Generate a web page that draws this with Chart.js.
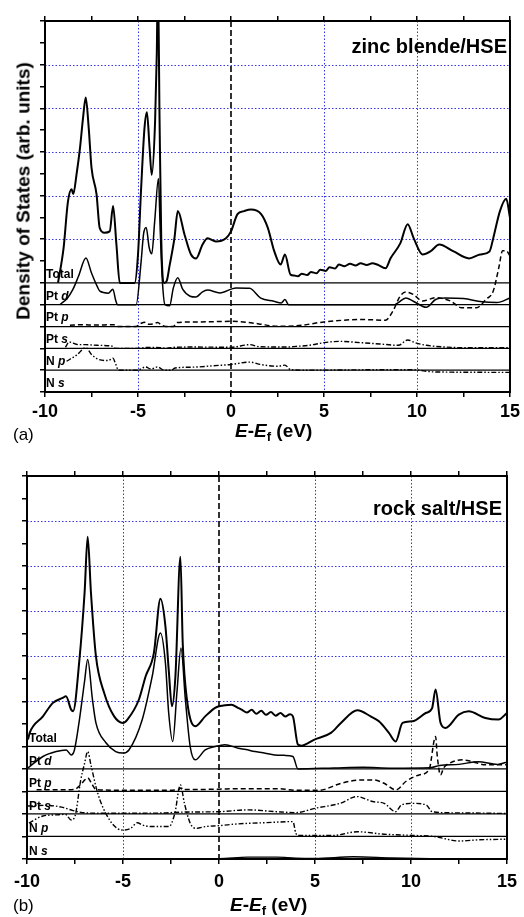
<!DOCTYPE html>
<html><head><meta charset="utf-8">
<script src="https://cdn.jsdelivr.net/npm/chart.js@4.4.1/dist/chart.umd.min.js"></script>
<style>
html,body{margin:0;padding:0;background:#fff;}
#wrap{position:relative;width:524px;height:917px;overflow:hidden;font-family:'Liberation Sans',Arial,Helvetica,sans-serif;color:#000;}
canvas{position:absolute;left:0;}
.t{position:absolute;white-space:nowrap;line-height:1;}
.lab{font-size:12px;font-weight:bold;}
.ttl{font-size:20px;font-weight:bold;}
.xt{font-size:19px;font-weight:bold;}
.xt sub{font-size:13px;font-style:normal;vertical-align:-4px;line-height:0;}
.pl{font-size:17px;}
</style></head><body>
<div id="wrap">
<canvas id="ca" width="524" height="458" style="top:0"></canvas>
<canvas id="cb" width="524" height="459" style="top:458px"></canvas>

<div class="t" style="left:23px;top:191px;font-size:19px;font-weight:bold;transform:translate(-50%,-50%) rotate(-90deg);">Density of States (arb. units)</div>

<div class="t ttl" style="right:17px;top:36px;">zinc blende/HSE</div>
<div class="t ttl" style="right:22px;top:498px;">rock salt/HSE</div>

<div class="t xt" style="left:235px;top:421px;"><i>E</i>-<i>E</i><sub>f</sub> (eV)</div>
<div class="t xt" style="left:230px;top:895px;"><i>E</i>-<i>E</i><sub>f</sub> (eV)</div>

<div class="t pl" style="left:13px;top:426px;">(a)</div>
<div class="t pl" style="left:13px;top:897px;">(b)</div>
<div id="labs"></div>
</div>
<script>
// ---------------- data (energy in eV, DOS in arb. units relative to each curve's own baseline)
const seriesNames = ['Total', 'Pt d', 'Pt p', 'Pt s', 'N p', 'N s'];
const energyTicks = [-10, -5, 0, 5, 10, 15];
const gridLevels = [7, 9, 11, 13, 15];
const gridEnergies = [-5, 5, 10];
const fermiEnergy = 0;

// zinc blende / HSE
const zbTotal = [[-9.3,0],[-9.0,1.6],[-8.77,3.7],[-8.57,4.29],[-8.48,4.07],[-8.3,5.0],[-8.13,6.09],[-7.95,7.6],[-7.81,8.5],[-7.65,7.1],[-7.5,5.28],[-7.23,4.07],[-7.06,2.52],[-6.8,2.3],[-6.52,2.36],[-6.34,3.52],[-6.16,1.76],[-5.98,0],[-5.18,0],[-5.0,1.3],[-4.83,4.36],[-4.65,7.1],[-4.52,7.82],[-4.38,6.22],[-4.26,4.95],[-4.08,7.43],[-3.99,10.5],[-3.93,14],[-3.84,7.43],[-3.75,2.05],[-3.58,0],[-3.45,0.1],[-3.3,0.8],[-3.04,2.05],[-2.86,3.29],[-2.5,2.22],[-2.15,1.3],[-1.88,1.12],[-1.53,1.76],[-1.26,2.05],[-0.81,1.9],[-0.27,2.05],[0,2.36],[0.35,3.15],[0.7,3.29],[1.07,3.36],[1.62,3.15],[1.98,2.52],[2.33,1.44],[2.67,0.84],[2.9,1.3],[3.2,0.38],[3.4,0.34],[3.6,0.3],[3.8,0.42],[4.1,0.36],[4.3,0.5],[4.6,0.44],[4.8,0.6],[5.1,0.55],[5.3,0.72],[5.6,0.66],[5.8,0.84],[6.1,0.76],[6.4,0.88],[6.7,0.8],[6.97,0.9],[7.3,0.82],[7.6,0.9],[7.86,0.84],[8.31,0.67],[8.58,1.13],[9.1,1.81],[9.5,2.69],[9.82,2.05],[10.3,1.3],[10.72,1.44],[11.2,1.76],[11.97,1.44],[12.8,1.12],[13.39,1.3],[13.9,1.44],[14.1,2.05],[14.46,3.29],[14.8,3.85],[15,2.98]];
const zbPtd = [[-9.2,0],[-8.8,0.3],[-8.5,0.7],[-8.2,1.3],[-7.8,2.14],[-7.5,1.45],[-7.2,0.85],[-7.05,0.62],[-6.6,0.53],[-6.35,0.71],[-6.2,0.2],[-6.1,0],[-5.1,0],[-4.83,2.0],[-4.7,3.25],[-4.56,3.54],[-4.4,2.62],[-4.26,2.33],[-4.1,3.85],[-3.9,5.78],[-3.81,3.54],[-3.7,1.24],[-3.55,0],[-3.3,-0.05],[-3.1,0.77],[-2.86,1.24],[-2.6,0.71],[-2.2,0.39],[-1.88,0.35],[-1.55,0.58],[-1.26,0.67],[-0.6,0.54],[0.27,0.77],[1.0,0.75],[1.6,0.3],[2.3,0.16],[2.7,0.08],[2.9,0.24],[3.1,0],[8.8,0],[9.0,0.1],[9.4,0.31],[9.8,0.16],[10.5,-0.12],[11.0,0.24],[11.5,0.31],[12.5,0.28],[13.5,0.13],[14.3,0.1],[15,0.31]];
const zbPtp = [[-8.66,0.06],[-8.0,0.08],[-7.3,0.07],[-6.3,0.08],[-6.1,0],[-5.1,0],[-4.9,0.12],[-4.6,0.2],[-4.4,0.1],[-4.2,0.12],[-3.95,0.18],[-3.7,0.05],[-3.5,0],[-3.1,0],[-2.9,0.18],[-2.0,0.21],[-1,0.22],[0,0.24],[0.8,0.2],[1.5,0.12],[2.5,0.01],[3.5,0.03],[5.0,0.21],[7.0,0.32],[8.3,0.29],[8.7,0.7],[9.1,1.4],[9.4,1.58],[9.8,1.47],[10.3,1.17],[11.0,1.32],[11.8,1.17],[12.4,0.86],[13.2,0.86],[13.7,1.24],[14.1,1.63],[14.4,2.7],[14.6,3.47],[14.8,3.47],[15,3.24]];
const zbPts = [[-8.9,0.05],[-8.7,0.29],[-8.2,0.17],[-7.8,0.17],[-7.2,0.14],[-6.4,0.1],[-6.2,0],[-5.0,0],[-4.5,0.04],[-3.8,0.03],[-3.5,0],[-3.0,0.05],[-2.0,0.06],[0,0.05],[1.0,0.17],[1.5,0.08],[3.0,0.06],[3.5,0.09],[4.2,0.14],[5.0,0.26],[5.8,0.32],[7.0,0.26],[8.0,0.2],[9.0,0.14],[9.5,0.38],[9.9,0.26],[10.5,0.14],[11.5,0.06],[12.5,0.03],[15,0.03]];
const zbNp = [[-8.84,0.41],[-8.3,0.69],[-7.8,1.03],[-7.5,0.72],[-7.1,0.49],[-6.6,0.44],[-6.35,0.55],[-6.2,0.28],[-6.05,0],[-5.0,0],[-4.8,0.08],[-4.6,0.15],[-4.3,0.05],[-3.95,0.15],[-3.6,0],[-3.2,0],[-3.0,0.1],[-2.0,0.14],[-1.0,0.2],[0,0.26],[1.0,0.37],[1.6,0.26],[2.5,0.18],[2.9,0.23],[3.2,0.03],[4.0,0],[8.3,0.02],[9.8,0.02],[10.9,-0.08],[15,-0.1]];
const zbNs = [[-9.3,0],[-6,0.01],[-5,0],[0,0.02],[5,0.01],[10,0.01],[15,0]];

// rock salt / HSE
const rsTotal = [[-9.95,0.3],[-9.86,0.6],[-9.17,1.33],[-8.65,1.93],[-8.14,2.15],[-7.97,2.22],[-7.7,1.63],[-7.6,1.56],[-7.27,3.85],[-7.0,6.83],[-6.84,9.3],[-6.67,6.83],[-6.41,4.0],[-5.98,2.37],[-5.46,1.33],[-5.0,1.04],[-4.77,1.19],[-4.17,2.08],[-3.82,3.11],[-3.39,4.15],[-3.05,6.55],[-2.79,5.33],[-2.62,3.41],[-2.45,1.78],[-2.27,3.11],[-2.01,8.42],[-1.89,4.6],[-1.67,2.08],[-1.24,0.89],[-0.72,1.33],[-0.2,1.71],[0,1.78],[0.65,1.85],[0.99,1.71],[1.2,1.62],[1.45,1.5],[1.7,1.62],[1.95,1.45],[2.2,1.58],[2.45,1.4],[2.7,1.52],[2.95,1.36],[3.2,1.48],[3.45,1.33],[3.7,1.42],[3.85,1.33],[4.11,0.08],[4.28,0.03],[4.97,0.3],[5.83,0.6],[6.35,1.04],[7.21,1.6],[7.9,1.33],[8.33,1.11],[8.85,0.6],[9.2,0.22],[9.56,1.04],[10.07,1.11],[10.77,1.48],[11.1,1.7],[11.28,2.52],[11.54,1.04],[11.8,0.82],[12.49,1.41],[13.0,1.56],[13.87,1.26],[14.56,1.19],[15,1.48]];
const rsPtd = [[-9.95,0.04],[-9.17,0.55],[-8.48,0.77],[-7.96,0.84],[-7.7,0.62],[-7.53,0.84],[-7.27,2.18],[-7.0,3.9],[-6.84,4.86],[-6.59,3.07],[-6.41,2.04],[-5.89,1.16],[-5.38,0.77],[-5.0,0.7],[-4.69,0.84],[-4.0,2.18],[-3.48,4.1],[-3.05,6.03],[-2.79,4.7],[-2.62,2.48],[-2.41,1.21],[-2.19,3.41],[-1.98,5.36],[-1.75,3.07],[-1.5,0.99],[-1.24,0.4],[-0.72,0.84],[-0.2,0.99],[0.31,1.07],[1.0,0.92],[1.4,0.86],[1.87,0.77],[2.3,0.72],[2.9,0.62],[3.4,0.6],[3.85,0.55],[4.11,0],[6.0,0.04],[7.5,0.07],[9.0,0.03],[11.0,0.05],[11.5,0.15],[12.5,0.2],[13.5,0.32],[14.5,0.2],[15,0.3]];
const rsPtp = [[-9.5,0.07],[-8,0.07],[-7.5,0.1],[-7.2,0.3],[-7.0,0.5],[-6.84,0.6],[-6.6,0.3],[-6.4,0.08],[-5,0.05],[-3,0.05],[-2.1,0.08],[-2.0,0.15],[-1.9,0.08],[0,0.1],[1,0.12],[3,0.12],[4.1,0.05],[5.2,0.05],[5.5,0.09],[6.35,0.36],[7.55,0.51],[8.05,0.51],[8.6,0.36],[9.22,0.07],[9.73,0.44],[10.42,0.73],[10.94,0.96],[11.28,2.44],[11.37,1.55],[11.54,0.73],[11.7,1.04],[12.05,1.27],[12.66,1.4],[13.2,1.32],[13.87,1.18],[15,1.18]];
const rsPts = [[-9.95,0.35],[-9.0,0.38],[-8.2,0.3],[-7.6,0.15],[-7.0,0.05],[-6.0,0.03],[-3.0,0.04],[-2.0,0.08],[0,0.1],[1.5,0.18],[3.0,0.1],[4.0,0.06],[5.0,0.25],[6.3,0.47],[7.2,0.77],[8.0,0.55],[8.6,0.47],[9.2,0.1],[9.5,0.4],[10.1,0.47],[10.8,0.4],[11.1,0.1],[12,0.05],[13.3,0.04],[15,0.02]];
const rsNp = [[-9.9,0.59],[-9.17,0.91],[-8.48,0.96],[-8.0,0.98],[-7.7,0.73],[-7.5,0.9],[-7.2,2.51],[-7.0,3.25],[-6.84,3.77],[-6.67,3.18],[-6.41,2.21],[-6.2,1.62],[-5.9,1.03],[-5.5,0.51],[-5.1,0.29],[-4.9,0.29],[-4.6,0.36],[-4.25,0.61],[-4.0,0.51],[-3.5,0.44],[-2.6,0.44],[-2.3,1.03],[-2.01,2.29],[-1.8,1.47],[-1.5,0.59],[-1.2,0.36],[-0.7,0.44],[0,0.48],[1.0,0.56],[2.38,0.61],[3.85,0.66],[4.0,0.15],[4.11,0.04],[6.0,0.05],[7.2,0.21],[8.6,0.1],[10.0,0.05],[11.2,0.0],[12.5,-0.2],[13.5,-0.15],[15,-0.12]];
const rsNs = [[-10,0],[0,0.02],[1.5,0.08],[3,0.08],[4,0.04],[5,0.03],[7,0.1],[9,0.05],[11,0.02],[15,0]];

// ---------------- styling
const FF = "'Liberation Sans', Arial, Helvetica, sans-serif";
const seriesStyles = [
  {w:2.0, dash:[]},
  {w:1.5, dash:[]},
  {w:1.5, dash:[5,3]},
  {w:1.4, dash:[5,2,1.5,2]},
  {w:1.4, dash:[5,2,1.5,2,1.5,2]},
  {w:1.3, dash:[]}
];

const decor = {
  id:'decor',
  beforeDatasetsDraw(chart){
    const {ctx, chartArea:a, scales:{x, y}} = chart;
    const ln = (x1,y1,x2,y2)=>{ctx.beginPath();ctx.moveTo(x1,y1);ctx.lineTo(x2,y2);ctx.stroke();};
    ctx.save();
    ctx.strokeStyle = '#3636e6'; ctx.lineWidth = 1; ctx.setLineDash([1.5,2]);
    gridLevels.forEach(v=>{const p=Math.round(y.getPixelForValue(v))+0.5; ln(a.left,p,a.right,p);});
    gridEnergies.forEach(v=>{const p=Math.round(x.getPixelForValue(v))+0.5; ln(p,a.top,p,a.bottom);});
    ctx.strokeStyle = '#000'; ctx.lineWidth = 1.6; ctx.setLineDash([6,3]);
    const fx = x.getPixelForValue(fermiEnergy); ln(fx,a.top,fx,a.bottom);
    ctx.setLineDash([]); ctx.lineWidth = 1.3;
    for (let k=1;k<seriesNames.length;k++){const p=y.getPixelForValue(k); ln(a.left,p,a.right,p);}
    ctx.restore();
  },
  afterDatasetsDraw(chart){
    const {ctx, chartArea:a} = chart;
    ctx.save(); ctx.strokeStyle='#000'; ctx.lineWidth=2; ctx.setLineDash([]);
    ctx.strokeRect(a.left, a.top, a.right-a.left, a.bottom-a.top);
    ctx.restore();
  }
};

function makeChart(id, series, g){
  const n = seriesNames.length;
  const datasets = series.map((arr,i)=>({
    label: seriesNames[i],
    data: arr.map(([e,v])=>({x:e, y:v + (n-1-i)})),
    borderColor:'#000', borderWidth: seriesStyles[i].w, borderDash: seriesStyles[i].dash,
    pointRadius:0, fill:false, cubicInterpolationMode:'monotone'
  }));
  const tickGrid = {display:true, drawOnChartArea:false, drawTicks:true, tickLength:5, color:'#000', lineWidth:1.5};
  return new Chart(document.getElementById(id), {
    type:'line',
    data:{datasets},
    plugins:[decor],
    options:{
      responsive:false, animation:false, devicePixelRatio:1,
      layout:{padding:{left:0, right:g.right, top:0, bottom:0}},
      plugins:{legend:{display:false}, tooltip:{enabled:false}},
      scales:{
        x:{type:'linear', position:'bottom', min:-10, max:15,
           ticks:{stepSize:2.5, autoSkip:false, maxRotation:0, padding:g.tickPad, color:'#000',
                  font:{family:FF, size:18, weight:'bold'},
                  callback:v=> energyTicks.includes(v) ? String(v) : ''},
           grid:tickGrid, border:{display:false},
           afterFit:s=>{s.height=g.bottom;}},
        xt:{type:'linear', position:'top', min:-10, max:15,
           ticks:{display:false, stepSize:2.5}, grid:tickGrid, border:{display:false},
           afterFit:s=>{s.height=g.top;}},
        y:{type:'linear', position:'left', min:0, max:17,
           ticks:{display:false, stepSize:1}, grid:tickGrid, border:{display:false},
           afterFit:s=>{s.width=g.left;}}
      }
    }
  });
}

const chA = makeChart('ca', [zbTotal, zbPtd, zbPtp, zbPts, zbNp, zbNs], {left:45, right:12, top:21, bottom:66, tickPad:4});
const chB = makeChart('cb', [rsTotal, rsPtd, rsPtp, rsPts, rsNp, rsNs], {left:27, right:14, top:18, bottom:58, tickPad:7});

// curve name labels, placed from the chart's own y scale
function addLabels(chart, topOffset, left, lift){
  const box = document.getElementById('labs');
  const n = seriesNames.length;
  seriesNames.forEach((name,i)=>{
    const base = topOffset + chart.scales.y.getPixelForValue(n-1-i) - lift;
    const parts = name.split(' ');
    const el = document.createElement('div');
    el.className = 't lab';
    el.style.left = left + 'px';
    el.style.top = (base - 0.846*12) + 'px';
    el.innerHTML = parts.length>1 ? parts[0] + ' <i>' + parts[1] + '</i>' : name;
    box.appendChild(el);
  });
}
addLabels(chA, 0, 46, 5);
addLabels(chB, 458, 29, 4);
</script>
</body></html>
